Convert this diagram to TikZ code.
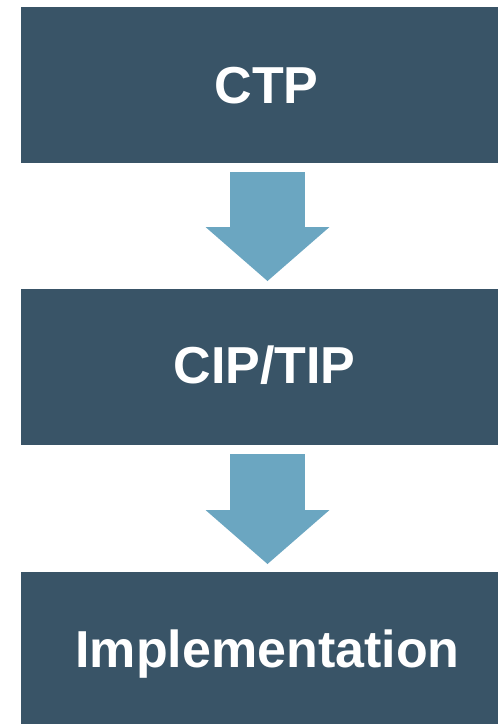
\documentclass[tikz,border=0pt]{standalone}
\usepackage{fontspec}
\setmainfont{Liberation Sans}
\usetikzlibrary{arrows.meta}
\definecolor{boxcol}{HTML}{395467}
\definecolor{arrcol}{HTML}{6BA6C1}
\begin{document}
\begin{tikzpicture}[x=1pt,y=1pt,
  box/.style={fill=boxcol, draw=none, minimum width=493pt, minimum height=156pt, inner sep=0pt, outer sep=0pt},
  lab/.style={text=white, font=\fontsize{52}{60}\selectfont\bfseries, anchor=base, inner sep=0pt},
  flow/.style={draw=arrcol, line width=75pt, -{Triangle[width=124pt,length=54pt,line width=0pt]}, shorten <=9pt, shorten >=8pt}]
\useasboundingbox (0,0) rectangle (498,-724);
\node[box] (b1) at (267.5,-85) {};
\node[box] (b2) at (267.5,-367) {};
\node[box, minimum height=160pt] (b3) at (267.5,-652) {};
\node[lab] (t1) at (266.5,-103) {CTP};
\node[lab] (t2) at (264.5,-383) {CIP/TIP};
\node[lab] (t3) at (267.5,-667) {Implementation};
\draw[flow] (b1.south) -- (b2.north);
\draw[flow] (b2.south) -- (b3.north);
\end{tikzpicture}
\end{document}
